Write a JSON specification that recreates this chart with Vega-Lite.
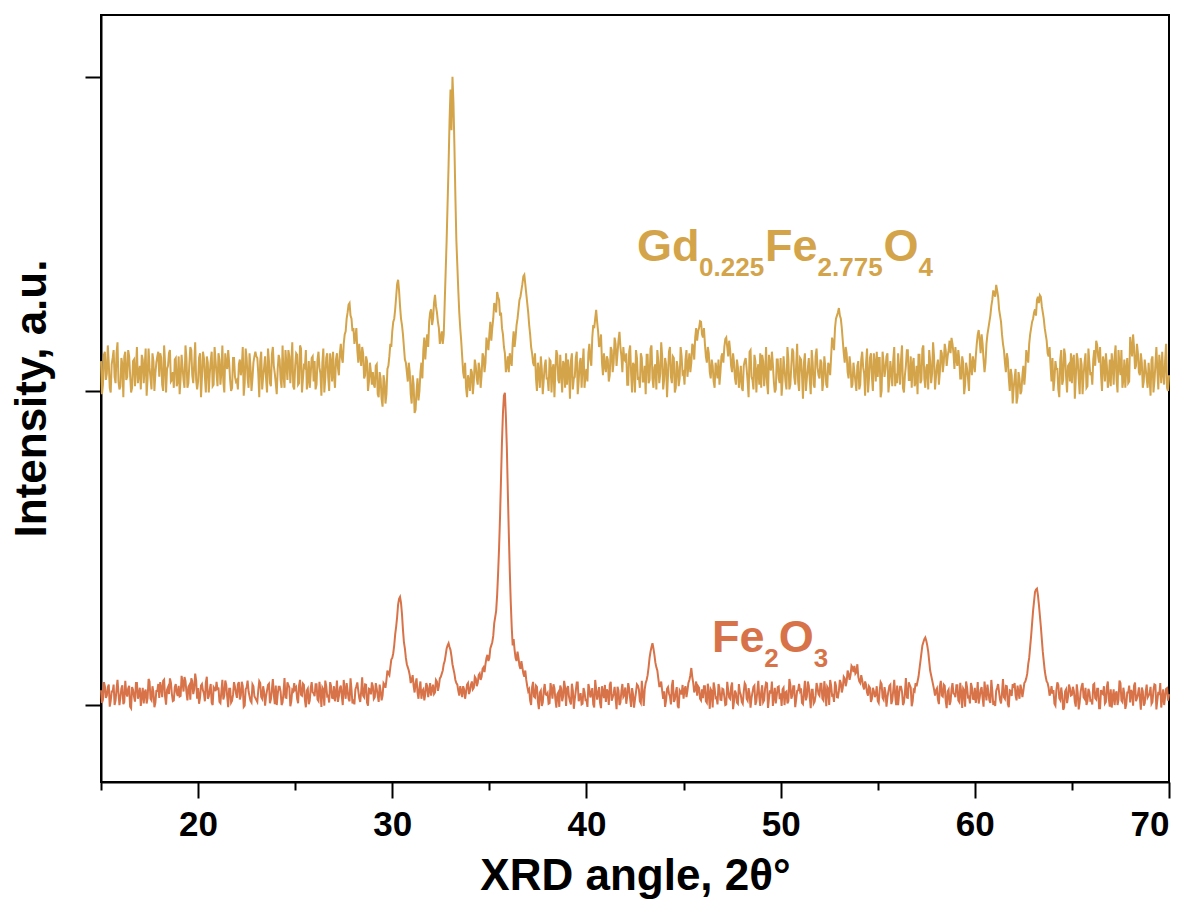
{
"$schema":"https://vega.github.io/schema/vega-lite/v6.json",
"width":1068,"height":767,
"autosize":{"type":"none"},
"padding":{"left":101,"top":15,"right":23,"bottom":120},
"background":"white",
"config":{"view":{"stroke":"black","strokeWidth":2},"axis":{"grid":false,"domainColor":"black","domainWidth":2,"tickColor":"black","tickWidth":2,"labelFont":"Liberation Sans","labelFontWeight":"bold","labelColor":"black","titleFont":"Liberation Sans","titleFontWeight":"bold","titleColor":"black"}},
"datasets":{"xrd":[
{"x":15.0,"f":47,"g":1095},{"x":15.1,"f":17,"g":1020},{"x":15.2,"f":60,"g":1125},{"x":15.3,"f":30,"g":1055},{"x":15.4,"f":65,"g":1090},{"x":15.5,"f":13,"g":995},{"x":15.6,"f":43,"g":1105},{"x":15.7,"f":0,"g":1045},{"x":15.8,"f":50,"g":1120},{"x":15.9,"f":37,"g":1030},
{"x":16.0,"f":25,"g":1015},{"x":16.1,"f":63,"g":1085},{"x":16.2,"f":10,"g":1110},{"x":16.3,"f":40,"g":1035},{"x":16.4,"f":53,"g":1130},{"x":16.5,"f":-5,"g":1050},{"x":16.6,"f":57,"g":1010},{"x":16.7,"f":27,"g":1100},{"x":16.8,"f":70,"g":1070},{"x":16.9,"f":20,"g":1025},
{"x":17.0,"f":55,"g":1080},{"x":17.1,"f":30,"g":1115},{"x":17.2,"f":5,"g":1025},{"x":17.3,"f":49,"g":1135},{"x":17.4,"f":23,"g":1040},{"x":17.5,"f":75,"g":1075},{"x":17.6,"f":15,"g":1005},{"x":17.7,"f":41,"g":1095},{"x":17.8,"f":7,"g":1055},{"x":17.9,"f":45,"g":1110},
{"x":18.0,"f":23,"g":1045},{"x":18.1,"f":55,"g":1105},{"x":18.2,"f":77,"g":1000},{"x":18.3,"f":27,"g":1090},{"x":18.4,"f":49,"g":1070},{"x":18.5,"f":35,"g":1120},{"x":18.6,"f":71,"g":1030},{"x":18.7,"f":13,"g":1060},{"x":18.8,"f":57,"g":1100},{"x":18.9,"f":39,"g":1015},
{"x":19.0,"f":61,"g":1110},{"x":19.1,"f":29,"g":1040},{"x":19.2,"f":73,"g":1075},{"x":19.3,"f":89,"g":1010},{"x":19.4,"f":41,"g":1105},{"x":19.5,"f":57,"g":1025},{"x":19.6,"f":17,"g":1140},{"x":19.7,"f":75,"g":1050},{"x":19.8,"f":51,"g":1085},{"x":19.9,"f":79,"g":1035},
{"x":20.0,"f":54,"g":1030},{"x":20.1,"f":24,"g":1120},{"x":20.2,"f":67,"g":1045},{"x":20.3,"f":37,"g":1105},{"x":20.4,"f":72,"g":995},{"x":20.5,"f":20,"g":1090},{"x":20.6,"f":50,"g":1055},{"x":20.7,"f":7,"g":1125},{"x":20.8,"f":57,"g":1020},{"x":20.9,"f":44,"g":1095},
{"x":21.0,"f":48,"g":1015},{"x":21.1,"f":10,"g":1100},{"x":21.2,"f":44,"g":1060},{"x":21.3,"f":18,"g":1030},{"x":21.4,"f":78,"g":1120},{"x":21.5,"f":26,"g":1070},{"x":21.6,"f":52,"g":1090},{"x":21.7,"f":8,"g":1000},{"x":21.8,"f":33,"g":1105},{"x":21.9,"f":58,"g":1045},
{"x":22.0,"f":23,"g":1035},{"x":22.1,"f":73,"g":1085},{"x":22.2,"f":30,"g":1050},{"x":22.3,"f":60,"g":1140},{"x":22.4,"f":-2,"g":1025},{"x":22.5,"f":56,"g":1105},{"x":22.6,"f":43,"g":1010},{"x":22.7,"f":13,"g":1075},{"x":22.8,"f":66,"g":1040},{"x":22.9,"f":28,"g":1110},
{"x":23.0,"f":16,"g":1110},{"x":23.1,"f":48,"g":1055},{"x":23.2,"f":70,"g":1095},{"x":23.3,"f":20,"g":1005},{"x":23.4,"f":42,"g":1075},{"x":23.5,"f":28,"g":1040},{"x":23.6,"f":64,"g":1135},{"x":23.7,"f":6,"g":1025},{"x":23.8,"f":50,"g":1115},{"x":23.9,"f":32,"g":1080},
{"x":24.0,"f":62,"g":1025},{"x":24.1,"f":34,"g":1070},{"x":24.2,"f":58,"g":1100},{"x":24.3,"f":0,"g":1010},{"x":24.4,"f":40,"g":1050},{"x":24.5,"f":24,"g":1130},{"x":24.6,"f":72,"g":1035},{"x":24.7,"f":56,"g":1110},{"x":24.8,"f":12,"g":1085},{"x":24.9,"f":44,"g":1015},
{"x":25.0,"f":50,"g":1080},{"x":25.1,"f":20,"g":1115},{"x":25.2,"f":63,"g":1025},{"x":25.3,"f":33,"g":1135},{"x":25.4,"f":68,"g":1040},{"x":25.5,"f":16,"g":1075},{"x":25.6,"f":46,"g":1005},{"x":25.7,"f":3,"g":1095},{"x":25.8,"f":53,"g":1055},{"x":25.9,"f":40,"g":1110},
{"x":26.0,"f":28,"g":1095},{"x":26.1,"f":66,"g":1020},{"x":26.2,"f":13,"g":1125},{"x":26.3,"f":43,"g":1055},{"x":26.4,"f":56,"g":1090},{"x":26.5,"f":-2,"g":995},{"x":26.6,"f":60,"g":1105},{"x":26.7,"f":30,"g":1045},{"x":26.8,"f":73,"g":1120},{"x":26.9,"f":23,"g":1030},
{"x":27.0,"f":60,"g":1050},{"x":27.1,"f":35,"g":1100},{"x":27.2,"f":10,"g":1075},{"x":27.3,"f":54,"g":1120},{"x":27.4,"f":28,"g":1105},{"x":27.5,"f":80,"g":1150},{"x":27.6,"f":20,"g":1190},{"x":27.7,"f":46,"g":1250},{"x":27.8,"f":12,"g":1280},{"x":27.9,"f":50,"g":1230},
{"x":28.0,"f":18,"g":1200},{"x":28.1,"f":50,"g":1170},{"x":28.2,"f":72,"g":1130},{"x":28.3,"f":22,"g":1150},{"x":28.4,"f":44,"g":1080},{"x":28.5,"f":30,"g":1120},{"x":28.6,"f":66,"g":1050},{"x":28.7,"f":8,"g":1095},{"x":28.8,"f":52,"g":1030},{"x":28.9,"f":34,"g":1060},
{"x":29.0,"f":60,"g":1060},{"x":29.1,"f":25,"g":1010},{"x":29.2,"f":52,"g":1085},{"x":29.3,"f":10,"g":980},{"x":29.4,"f":45,"g":1040},{"x":29.5,"f":30,"g":950},{"x":29.6,"f":65,"g":1030},{"x":29.7,"f":80,"g":990},{"x":29.8,"f":100,"g":1080},{"x":29.9,"f":120,"g":1150},
{"x":30.0,"f":150,"g":1190},{"x":30.1,"f":190,"g":1230},{"x":30.2,"f":250,"g":1300},{"x":30.3,"f":320,"g":1354},{"x":30.4,"f":344,"g":1270},{"x":30.5,"f":290,"g":1210},{"x":30.6,"f":200,"g":1140},{"x":30.7,"f":150,"g":1090},{"x":30.8,"f":120,"g":1030},{"x":30.9,"f":95,"g":1060},
{"x":31.0,"f":80,"g":960},{"x":31.1,"f":60,"g":1020},{"x":31.2,"f":70,"g":940},{"x":31.3,"f":40,"g":1040},{"x":31.4,"f":55,"g":1000},{"x":31.5,"f":20,"g":1090},{"x":31.6,"f":50,"g":1130},{"x":31.7,"f":35,"g":1100},{"x":31.8,"f":60,"g":1180},{"x":31.9,"f":45,"g":1220},
{"x":32.0,"f":30,"g":1260},{"x":32.1,"f":65,"g":1230},{"x":32.2,"f":40,"g":1306},{"x":32.3,"f":75,"g":1250},{"x":32.4,"f":60,"g":1200},{"x":32.5,"f":90,"g":1170},{"x":32.6,"f":110,"g":1150},{"x":32.7,"f":140,"g":1280},{"x":32.8,"f":180,"g":1480},{"x":32.9,"f":197,"g":1720},
{"x":33.0,"f":175,"g":1960},{"x":33.1,"f":130,"g":2000},{"x":33.2,"f":100,"g":1780},{"x":33.3,"f":70,"g":1480},{"x":33.4,"f":45,"g":1320},{"x":33.5,"f":60,"g":1200},{"x":33.6,"f":25,"g":1110},{"x":33.7,"f":50,"g":1040},{"x":33.8,"f":40,"g":1010},{"x":33.9,"f":70,"g":1050},
{"x":34.0,"f":45,"g":1000},{"x":34.1,"f":75,"g":1060},{"x":34.2,"f":55,"g":1030},{"x":34.3,"f":85,"g":1080},{"x":34.4,"f":70,"g":1020},{"x":34.5,"f":100,"g":1070},{"x":34.6,"f":90,"g":1050},{"x":34.7,"f":120,"g":1110},{"x":34.8,"f":130,"g":1090},{"x":34.9,"f":160,"g":1150},
{"x":35.0,"f":150,"g":1180},{"x":35.1,"f":190,"g":1160},{"x":35.2,"f":220,"g":1230},{"x":35.3,"f":280,"g":1270},{"x":35.4,"f":350,"g":1315},{"x":35.5,"f":500,"g":1290},{"x":35.6,"f":720,"g":1250},{"x":35.7,"f":930,"g":1180},{"x":35.8,"f":994,"g":1120},{"x":35.9,"f":820,"g":1080},
{"x":36.0,"f":550,"g":1060},{"x":36.1,"f":330,"g":1100},{"x":36.2,"f":190,"g":1150},{"x":36.3,"f":175,"g":1140},{"x":36.4,"f":140,"g":1210},{"x":36.5,"f":150,"g":1260},{"x":36.6,"f":115,"g":1300},{"x":36.7,"f":120,"g":1340},{"x":36.8,"f":90,"g":1370},{"x":36.9,"f":80,"g":1310},
{"x":37.0,"f":44,"g":1250},{"x":37.1,"f":14,"g":1180},{"x":37.2,"f":57,"g":1120},{"x":37.3,"f":27,"g":1080},{"x":37.4,"f":62,"g":1040},{"x":37.5,"f":10,"g":1090},{"x":37.6,"f":40,"g":1010},{"x":37.7,"f":-3,"g":1070},{"x":37.8,"f":47,"g":1035},{"x":37.9,"f":34,"g":1100},
{"x":38.0,"f":38,"g":1040},{"x":38.1,"f":6,"g":1100},{"x":38.2,"f":50,"g":995},{"x":38.3,"f":66,"g":1085},{"x":38.4,"f":18,"g":1065},{"x":38.5,"f":34,"g":1115},{"x":38.6,"f":-6,"g":1025},{"x":38.7,"f":52,"g":1055},{"x":38.8,"f":28,"g":1095},{"x":38.9,"f":56,"g":1010},
{"x":39.0,"f":52,"g":1020},{"x":39.1,"f":27,"g":1065},{"x":39.2,"f":2,"g":1095},{"x":39.3,"f":46,"g":1005},{"x":39.4,"f":20,"g":1045},{"x":39.5,"f":72,"g":1125},{"x":39.6,"f":12,"g":1030},{"x":39.7,"f":38,"g":1105},{"x":39.8,"f":4,"g":1080},{"x":39.9,"f":42,"g":1010},
{"x":40.0,"f":17,"g":1070},{"x":40.1,"f":67,"g":1120},{"x":40.2,"f":24,"g":1100},{"x":40.3,"f":54,"g":1170},{"x":40.4,"f":-8,"g":1200},{"x":40.5,"f":50,"g":1258},{"x":40.6,"f":37,"g":1190},{"x":40.7,"f":7,"g":1150},{"x":40.8,"f":60,"g":1090},{"x":40.9,"f":22,"g":1120},
{"x":41.0,"f":10,"g":1060},{"x":41.1,"f":42,"g":1100},{"x":41.2,"f":64,"g":1050},{"x":41.3,"f":14,"g":1130},{"x":41.4,"f":36,"g":1090},{"x":41.5,"f":22,"g":1150},{"x":41.6,"f":58,"g":1120},{"x":41.7,"f":0,"g":1188},{"x":41.8,"f":44,"g":1110},{"x":41.9,"f":26,"g":1140},
{"x":42.0,"f":56,"g":1095},{"x":42.1,"f":28,"g":1020},{"x":42.2,"f":52,"g":1125},{"x":42.3,"f":-6,"g":1055},{"x":42.4,"f":34,"g":1090},{"x":42.5,"f":18,"g":995},{"x":42.6,"f":66,"g":1105},{"x":42.7,"f":50,"g":1045},{"x":42.8,"f":6,"g":1120},{"x":42.9,"f":38,"g":1030},
{"x":43.0,"f":50,"g":1080},{"x":43.1,"f":80,"g":1115},{"x":43.2,"f":120,"g":1025},{"x":43.3,"f":170,"g":1135},{"x":43.4,"f":197,"g":1040},{"x":43.5,"f":160,"g":1075},{"x":43.6,"f":120,"g":1005},{"x":43.7,"f":85,"g":1095},{"x":43.8,"f":60,"g":1055},{"x":43.9,"f":45,"g":1110},
{"x":44.0,"f":44,"g":1035},{"x":44.1,"f":14,"g":1085},{"x":44.2,"f":57,"g":1050},{"x":44.3,"f":27,"g":1140},{"x":44.4,"f":62,"g":1025},{"x":44.5,"f":10,"g":1105},{"x":44.6,"f":40,"g":1010},{"x":44.7,"f":-3,"g":1075},{"x":44.8,"f":47,"g":1040},{"x":44.9,"f":34,"g":1110},
{"x":45.0,"f":20,"g":1060},{"x":45.1,"f":60,"g":1100},{"x":45.2,"f":45,"g":1045},{"x":45.3,"f":80,"g":1120},{"x":45.4,"f":118,"g":1090},{"x":45.5,"f":70,"g":1140},{"x":45.6,"f":50,"g":1170},{"x":45.7,"f":30,"g":1160},{"x":45.8,"f":55,"g":1200},{"x":45.9,"f":15,"g":1220},
{"x":46.0,"f":22,"g":1170},{"x":46.1,"f":60,"g":1150},{"x":46.2,"f":7,"g":1090},{"x":46.3,"f":37,"g":1120},{"x":46.4,"f":50,"g":1040},{"x":46.5,"f":-8,"g":1080},{"x":46.6,"f":54,"g":1010},{"x":46.7,"f":24,"g":1070},{"x":46.8,"f":67,"g":1100},{"x":46.9,"f":17,"g":1060},
{"x":47.0,"f":52,"g":1120},{"x":47.1,"f":27,"g":1140},{"x":47.2,"f":2,"g":1170},{"x":47.3,"f":46,"g":1110},{"x":47.4,"f":20,"g":1130},{"x":47.5,"f":72,"g":1060},{"x":47.6,"f":12,"g":1090},{"x":47.7,"f":38,"g":1020},{"x":47.8,"f":4,"g":1075},{"x":47.9,"f":42,"g":1040},
{"x":48.0,"f":10,"g":1010},{"x":48.1,"f":42,"g":1080},{"x":48.2,"f":64,"g":1105},{"x":48.3,"f":14,"g":1030},{"x":48.4,"f":36,"g":1125},{"x":48.5,"f":22,"g":1045},{"x":48.6,"f":58,"g":1005},{"x":48.7,"f":0,"g":1095},{"x":48.8,"f":44,"g":1065},{"x":48.9,"f":26,"g":1020},
{"x":49.0,"f":41,"g":1010},{"x":49.1,"f":9,"g":1095},{"x":49.2,"f":53,"g":1055},{"x":49.3,"f":69,"g":1025},{"x":49.4,"f":21,"g":1115},{"x":49.5,"f":37,"g":1065},{"x":49.6,"f":-3,"g":1085},{"x":49.7,"f":55,"g":995},{"x":49.8,"f":31,"g":1100},{"x":49.9,"f":59,"g":1040},
{"x":50.0,"f":37,"g":1105},{"x":50.1,"f":50,"g":1035},{"x":50.2,"f":0,"g":1070},{"x":50.3,"f":43,"g":1005},{"x":50.4,"f":13,"g":1100},{"x":50.5,"f":65,"g":1020},{"x":50.6,"f":30,"g":1135},{"x":50.7,"f":60,"g":1045},{"x":50.8,"f":17,"g":1080},{"x":50.9,"f":47,"g":1030},
{"x":51.0,"f":45,"g":1105},{"x":51.1,"f":7,"g":1050},{"x":51.2,"f":41,"g":1090},{"x":51.3,"f":15,"g":1000},{"x":51.4,"f":75,"g":1070},{"x":51.5,"f":23,"g":1035},{"x":51.6,"f":49,"g":1130},{"x":51.7,"f":5,"g":1020},{"x":51.8,"f":30,"g":1110},{"x":51.9,"f":55,"g":1075},
{"x":52.0,"f":30,"g":1040},{"x":52.1,"f":68,"g":1090},{"x":52.2,"f":15,"g":1030},{"x":52.3,"f":45,"g":1075},{"x":52.4,"f":58,"g":1010},{"x":52.5,"f":0,"g":1080},{"x":52.6,"f":62,"g":1110},{"x":52.7,"f":32,"g":1150},{"x":52.8,"f":75,"g":1200},{"x":52.9,"f":25,"g":1240},
{"x":53.0,"f":45,"g":1264},{"x":53.1,"f":70,"g":1230},{"x":53.2,"f":55,"g":1160},{"x":53.3,"f":85,"g":1090},{"x":53.4,"f":75,"g":1120},{"x":53.5,"f":100,"g":1040},{"x":53.6,"f":95,"g":1080},{"x":53.7,"f":120,"g":1020},{"x":53.8,"f":125,"g":1060},{"x":53.9,"f":105,"g":1000},
{"x":54.0,"f":90,"g":1095},{"x":54.1,"f":70,"g":1020},{"x":54.2,"f":80,"g":1125},{"x":54.3,"f":50,"g":1055},{"x":54.4,"f":65,"g":1090},{"x":54.5,"f":30,"g":995},{"x":54.6,"f":55,"g":1105},{"x":54.7,"f":20,"g":1045},{"x":54.8,"f":45,"g":1120},{"x":54.9,"f":35,"g":1030},
{"x":55.0,"f":13,"g":1045},{"x":55.1,"f":45,"g":1105},{"x":55.2,"f":67,"g":1000},{"x":55.3,"f":17,"g":1090},{"x":55.4,"f":39,"g":1070},{"x":55.5,"f":25,"g":1120},{"x":55.6,"f":61,"g":1030},{"x":55.7,"f":3,"g":1060},{"x":55.8,"f":47,"g":1100},{"x":55.9,"f":29,"g":1015},
{"x":56.0,"f":62,"g":1025},{"x":56.1,"f":34,"g":1070},{"x":56.2,"f":58,"g":1100},{"x":56.3,"f":0,"g":1010},{"x":56.4,"f":40,"g":1050},{"x":56.5,"f":24,"g":1130},{"x":56.6,"f":72,"g":1035},{"x":56.7,"f":56,"g":1110},{"x":56.8,"f":12,"g":1085},{"x":56.9,"f":44,"g":1015},
{"x":57.0,"f":60,"g":1080},{"x":57.1,"f":90,"g":1115},{"x":57.2,"f":140,"g":1025},{"x":57.3,"f":190,"g":1135},{"x":57.4,"f":210,"g":1040},{"x":57.5,"f":205,"g":1075},{"x":57.6,"f":170,"g":1005},{"x":57.7,"f":110,"g":1095},{"x":57.8,"f":80,"g":1055},{"x":57.9,"f":50,"g":1110},
{"x":58.0,"f":47,"g":1045},{"x":58.1,"f":17,"g":1100},{"x":58.2,"f":60,"g":1060},{"x":58.3,"f":30,"g":1120},{"x":58.4,"f":65,"g":1090},{"x":58.5,"f":13,"g":1130},{"x":58.6,"f":43,"g":1110},{"x":58.7,"f":0,"g":1160},{"x":58.8,"f":50,"g":1169},{"x":58.9,"f":37,"g":1120},
{"x":59.0,"f":25,"g":1140},{"x":59.1,"f":63,"g":1080},{"x":59.2,"f":10,"g":1100},{"x":59.3,"f":40,"g":1040},{"x":59.4,"f":53,"g":1090},{"x":59.5,"f":-5,"g":1020},{"x":59.6,"f":57,"g":1070},{"x":59.7,"f":27,"g":1000},{"x":59.8,"f":70,"g":1080},{"x":59.9,"f":20,"g":1110},
{"x":60.0,"f":55,"g":1060},{"x":60.1,"f":30,"g":1150},{"x":60.2,"f":5,"g":1194},{"x":60.3,"f":49,"g":1120},{"x":60.4,"f":23,"g":1150},{"x":60.5,"f":75,"g":1060},{"x":60.6,"f":15,"g":1150},{"x":60.7,"f":41,"g":1200},{"x":60.8,"f":7,"g":1240},{"x":60.9,"f":45,"g":1290},
{"x":61.0,"f":13,"g":1310},{"x":61.1,"f":45,"g":1338},{"x":61.2,"f":67,"g":1300},{"x":61.3,"f":17,"g":1240},{"x":61.4,"f":39,"g":1180},{"x":61.5,"f":25,"g":1130},{"x":61.6,"f":61,"g":1060},{"x":61.7,"f":3,"g":1100},{"x":61.8,"f":47,"g":1000},{"x":61.9,"f":29,"g":1050},
{"x":62.0,"f":55,"g":1010},{"x":62.1,"f":30,"g":1070},{"x":62.2,"f":62,"g":980},{"x":62.3,"f":20,"g":1040},{"x":62.4,"f":50,"g":1000},{"x":62.5,"f":45,"g":1080},{"x":62.6,"f":75,"g":1060},{"x":62.7,"f":100,"g":1110},{"x":62.8,"f":150,"g":1150},{"x":62.9,"f":220,"g":1200},
{"x":63.0,"f":300,"g":1230},{"x":63.1,"f":360,"g":1260},{"x":63.2,"f":371,"g":1290},{"x":63.3,"f":320,"g":1280},{"x":63.4,"f":250,"g":1300},{"x":63.5,"f":170,"g":1250},{"x":63.6,"f":110,"g":1200},{"x":63.7,"f":75,"g":1160},{"x":63.8,"f":55,"g":1110},{"x":63.9,"f":40,"g":1080},
{"x":64.0,"f":36,"g":1105},{"x":64.1,"f":4,"g":1035},{"x":64.2,"f":48,"g":1070},{"x":64.3,"f":64,"g":1005},{"x":64.4,"f":16,"g":1100},{"x":64.5,"f":32,"g":1020},{"x":64.6,"f":-8,"g":1135},{"x":64.7,"f":50,"g":1045},{"x":64.8,"f":26,"g":1080},{"x":64.9,"f":54,"g":1030},
{"x":65.0,"f":32,"g":1025},{"x":65.1,"f":45,"g":1115},{"x":65.2,"f":-5,"g":1040},{"x":65.3,"f":38,"g":1100},{"x":65.4,"f":8,"g":990},{"x":65.5,"f":60,"g":1085},{"x":65.6,"f":25,"g":1050},{"x":65.7,"f":55,"g":1120},{"x":65.8,"f":12,"g":1015},{"x":65.9,"f":42,"g":1090},
{"x":66.0,"f":15,"g":1060},{"x":66.1,"f":65,"g":1100},{"x":66.2,"f":22,"g":1080},{"x":66.3,"f":52,"g":1147},{"x":66.4,"f":-10,"g":1090},{"x":66.5,"f":48,"g":1050},{"x":66.6,"f":35,"g":1110},{"x":66.7,"f":5,"g":1030},{"x":66.8,"f":58,"g":1080},{"x":66.9,"f":20,"g":1040},
{"x":67.0,"f":50,"g":1015},{"x":67.1,"f":25,"g":1085},{"x":67.2,"f":0,"g":1110},{"x":67.3,"f":44,"g":1035},{"x":67.4,"f":18,"g":1130},{"x":67.5,"f":70,"g":1050},{"x":67.6,"f":10,"g":1010},{"x":67.7,"f":36,"g":1100},{"x":67.8,"f":2,"g":1070},{"x":67.9,"f":40,"g":1025},
{"x":68.0,"f":8,"g":1172},{"x":68.1,"f":40,"g":1110},{"x":68.2,"f":62,"g":1140},{"x":68.3,"f":12,"g":1080},{"x":68.4,"f":34,"g":1120},{"x":68.5,"f":20,"g":1050},{"x":68.6,"f":56,"g":1090},{"x":68.7,"f":-2,"g":1030},{"x":68.8,"f":42,"g":1070},{"x":68.9,"f":24,"g":1010},
{"x":69.0,"f":36,"g":1040},{"x":69.1,"f":4,"g":1100},{"x":69.2,"f":48,"g":995},{"x":69.3,"f":64,"g":1085},{"x":69.4,"f":16,"g":1065},{"x":69.5,"f":32,"g":1115},{"x":69.6,"f":-8,"g":1025},{"x":69.7,"f":50,"g":1055},{"x":69.8,"f":26,"g":1095},{"x":69.9,"f":54,"g":1010},
{"x":70.0,"f":35,"g":1050},
{"x":15.05,"f":7,"g":990},{"x":15.15,"f":73,"g":1115},{"x":15.25,"f":23,"g":1035},{"x":15.35,"f":57,"g":1145},{"x":15.45,"f":-5,"g":1010},{"x":15.55,"f":43,"g":1085},{"x":15.65,"f":65,"g":1130},{"x":15.75,"f":15,"g":1025},{"x":15.85,"f":80,"g":1155},{"x":15.95,"f":0,"g":1005},
{"x":16.05,"f":53,"g":1105},{"x":16.15,"f":3,"g":980},{"x":16.25,"f":77,"g":1125},{"x":16.35,"f":27,"g":1045},{"x":16.45,"f":61,"g":1110},{"x":16.55,"f":-10,"g":995},{"x":16.65,"f":49,"g":1095},{"x":16.75,"f":11,"g":1015},{"x":16.85,"f":70,"g":1140},{"x":16.95,"f":35,"g":1055},
{"x":17.05,"f":-3,"g":1005},{"x":17.15,"f":55,"g":1100},{"x":17.25,"f":40,"g":1075},{"x":17.35,"f":5,"g":985},{"x":17.45,"f":83,"g":1135},{"x":17.55,"f":20,"g":1040},{"x":17.65,"f":60,"g":1120},{"x":17.75,"f":-7,"g":1000},{"x":17.85,"f":45,"g":1090},{"x":17.95,"f":67,"g":1125},
{"x":18.05,"f":73,"g":1120},{"x":18.15,"f":25,"g":1020},{"x":18.25,"f":81,"g":1145},{"x":18.35,"f":1,"g":995},{"x":18.45,"f":57,"g":1080},{"x":18.55,"f":85,"g":1130},{"x":18.65,"f":35,"g":1035},{"x":18.75,"f":15,"g":1010},{"x":18.85,"f":67,"g":1105},{"x":18.95,"f":29,"g":1030},
{"x":19.05,"f":27,"g":990},{"x":19.15,"f":93,"g":1115},{"x":19.25,"f":43,"g":1035},{"x":19.35,"f":77,"g":1145},{"x":19.45,"f":15,"g":1010},{"x":19.55,"f":63,"g":1085},{"x":19.65,"f":85,"g":1130},{"x":19.75,"f":35,"g":1025},{"x":19.85,"f":100,"g":1155},{"x":19.95,"f":20,"g":1005},
{"x":20.05,"f":4,"g":1105},{"x":20.15,"f":62,"g":980},{"x":20.25,"f":47,"g":1125},{"x":20.35,"f":12,"g":1045},{"x":20.45,"f":90,"g":1110},{"x":20.55,"f":27,"g":995},{"x":20.65,"f":67,"g":1095},{"x":20.75,"f":0,"g":1015},{"x":20.85,"f":52,"g":1140},{"x":20.95,"f":74,"g":1055},
{"x":21.05,"f":56,"g":1120},{"x":21.15,"f":6,"g":1020},{"x":21.25,"f":80,"g":1145},{"x":21.35,"f":30,"g":995},{"x":21.45,"f":64,"g":1080},{"x":21.55,"f":-7,"g":1130},{"x":21.65,"f":52,"g":1035},{"x":21.75,"f":14,"g":1010},{"x":21.85,"f":73,"g":1105},{"x":21.95,"f":38,"g":1030},
{"x":22.05,"f":66,"g":1005},{"x":22.15,"f":18,"g":1100},{"x":22.25,"f":74,"g":1075},{"x":22.35,"f":-6,"g":985},{"x":22.45,"f":50,"g":1135},{"x":22.55,"f":78,"g":1040},{"x":22.65,"f":28,"g":1120},{"x":22.75,"f":8,"g":1000},{"x":22.85,"f":60,"g":1090},{"x":22.95,"f":22,"g":1125},
{"x":23.05,"f":10,"g":1105},{"x":23.15,"f":76,"g":980},{"x":23.25,"f":26,"g":1125},{"x":23.35,"f":60,"g":1045},{"x":23.45,"f":-2,"g":1110},{"x":23.55,"f":46,"g":995},{"x":23.65,"f":68,"g":1095},{"x":23.75,"f":18,"g":1015},{"x":23.85,"f":83,"g":1140},{"x":23.95,"f":3,"g":1055},
{"x":24.05,"f":0,"g":990},{"x":24.15,"f":58,"g":1115},{"x":24.25,"f":43,"g":1035},{"x":24.35,"f":8,"g":1145},{"x":24.45,"f":86,"g":1010},{"x":24.55,"f":23,"g":1085},{"x":24.65,"f":63,"g":1130},{"x":24.75,"f":-4,"g":1025},{"x":24.85,"f":48,"g":1155},{"x":24.95,"f":70,"g":1005},
{"x":25.05,"f":56,"g":1120},{"x":25.15,"f":6,"g":1020},{"x":25.25,"f":80,"g":1145},{"x":25.35,"f":30,"g":995},{"x":25.45,"f":64,"g":1080},{"x":25.55,"f":-7,"g":1130},{"x":25.65,"f":52,"g":1035},{"x":25.75,"f":14,"g":1010},{"x":25.85,"f":73,"g":1105},{"x":25.95,"f":38,"g":1030},
{"x":26.05,"f":66,"g":1005},{"x":26.15,"f":18,"g":1100},{"x":26.25,"f":74,"g":1075},{"x":26.35,"f":-6,"g":985},{"x":26.45,"f":50,"g":1135},{"x":26.55,"f":78,"g":1040},{"x":26.65,"f":28,"g":1120},{"x":26.75,"f":8,"g":1000},{"x":26.85,"f":60,"g":1090},{"x":26.95,"f":22,"g":1125},
{"x":27.05,"f":12,"g":1010},{"x":27.15,"f":78,"g":1120},{"x":27.25,"f":28,"g":1050},{"x":27.35,"f":62,"g":1150},{"x":27.45,"f":0,"g":1090},{"x":27.55,"f":48,"g":1180},{"x":27.65,"f":70,"g":1230},{"x":27.75,"f":20,"g":1275},{"x":27.85,"f":85,"g":1240},{"x":27.95,"f":5,"g":1190},
{"x":28.05,"f":2,"g":1150},{"x":28.15,"f":60,"g":1200},{"x":28.25,"f":45,"g":1090},{"x":28.35,"f":10,"g":1110},{"x":28.45,"f":88,"g":1140},{"x":28.55,"f":25,"g":1040},{"x":28.65,"f":65,"g":1110},{"x":28.75,"f":-2,"g":1000},{"x":28.85,"f":50,"g":1090},{"x":28.95,"f":72,"g":1020},
{"x":29.05,"f":20,"g":1020},{"x":29.15,"f":70,"g":1080},{"x":29.25,"f":30,"g":990},{"x":29.35,"f":65,"g":1060},{"x":29.45,"f":15,"g":975},{"x":29.55,"f":70,"g":1050},{"x":29.65,"f":55,"g":960},{"x":29.75,"f":110,"g":1070},{"x":29.85,"f":95,"g":1110},{"x":29.95,"f":145,"g":1140},
{"x":30.05,"f":165,"g":1220},{"x":30.15,"f":225,"g":1260},{"x":30.25,"f":280,"g":1340},{"x":30.35,"f":338,"g":1320},{"x":30.45,"f":325,"g":1230},{"x":30.55,"f":240,"g":1180},{"x":30.65,"f":180,"g":1100},{"x":30.75,"f":130,"g":1060},{"x":30.85,"f":110,"g":1090},{"x":30.95,"f":70,"g":990},
{"x":31.05,"f":95,"g":1050},{"x":31.15,"f":40,"g":930},{"x":31.25,"f":85,"g":1000},{"x":31.35,"f":20,"g":970},{"x":31.45,"f":75,"g":1060},{"x":31.55,"f":45,"g":1040},{"x":31.65,"f":15,"g":1170},{"x":31.75,"f":70,"g":1150},{"x":31.85,"f":25,"g":1140},{"x":31.95,"f":70,"g":1250},
{"x":32.05,"f":50,"g":1210},{"x":32.15,"f":35,"g":1280},{"x":32.25,"f":80,"g":1270},{"x":32.35,"f":45,"g":1220},{"x":32.45,"f":85,"g":1150},{"x":32.55,"f":100,"g":1190},{"x":32.65,"f":130,"g":1180},{"x":32.75,"f":160,"g":1380},{"x":32.85,"f":190,"g":1600},{"x":32.95,"f":185,"g":1860},
{"x":33.05,"f":155,"g":1830},{"x":33.15,"f":115,"g":1920},{"x":33.25,"f":80,"g":1620},{"x":33.35,"f":65,"g":1400},{"x":33.45,"f":30,"g":1250},{"x":33.55,"f":45,"g":1160},{"x":33.65,"f":60,"g":1060},{"x":33.75,"f":20,"g":1090},{"x":33.85,"f":65,"g":980},{"x":33.95,"f":35,"g":1030},
{"x":34.05,"f":65,"g":1070},{"x":34.15,"f":50,"g":990},{"x":34.25,"f":90,"g":1100},{"x":34.35,"f":60,"g":1040},{"x":34.45,"f":95,"g":1090},{"x":34.55,"f":80,"g":1010},{"x":34.65,"f":115,"g":1120},{"x":34.75,"f":105,"g":1060},{"x":34.85,"f":150,"g":1170},{"x":34.95,"f":140,"g":1130},
{"x":35.05,"f":180,"g":1220},{"x":35.15,"f":200,"g":1200},{"x":35.25,"f":260,"g":1280},{"x":35.35,"f":300,"g":1250},{"x":35.45,"f":420,"g":1300},{"x":35.55,"f":600,"g":1240},{"x":35.65,"f":840,"g":1200},{"x":35.75,"f":985,"g":1140},{"x":35.85,"f":920,"g":1060},{"x":35.95,"f":680,"g":1110},
{"x":36.05,"f":430,"g":1120},{"x":36.15,"f":250,"g":1080},{"x":36.25,"f":210,"g":1190},{"x":36.35,"f":150,"g":1170},{"x":36.45,"f":170,"g":1230},{"x":36.55,"f":125,"g":1290},{"x":36.65,"f":140,"g":1320},{"x":36.75,"f":100,"g":1365},{"x":36.85,"f":110,"g":1340},{"x":36.95,"f":60,"g":1280},
{"x":37.05,"f":50,"g":1210},{"x":37.15,"f":0,"g":1140},{"x":37.25,"f":74,"g":1090},{"x":37.35,"f":24,"g":1120},{"x":37.45,"f":58,"g":1000},{"x":37.55,"f":-13,"g":1060},{"x":37.65,"f":46,"g":1110},{"x":37.75,"f":8,"g":990},{"x":37.85,"f":67,"g":1080},{"x":37.95,"f":32,"g":1040},
{"x":38.05,"f":4,"g":1000},{"x":38.15,"f":70,"g":1095},{"x":38.25,"f":20,"g":1070},{"x":38.35,"f":54,"g":980},{"x":38.45,"f":-8,"g":1130},{"x":38.55,"f":40,"g":1035},{"x":38.65,"f":62,"g":1115},{"x":38.75,"f":12,"g":995},{"x":38.85,"f":77,"g":1085},{"x":38.95,"f":-3,"g":1120},
{"x":39.05,"f":60,"g":1100},{"x":39.15,"f":12,"g":975},{"x":39.25,"f":68,"g":1120},{"x":39.35,"f":-12,"g":1040},{"x":39.45,"f":44,"g":1105},{"x":39.55,"f":72,"g":990},{"x":39.65,"f":22,"g":1090},{"x":39.75,"f":2,"g":1010},{"x":39.85,"f":54,"g":1135},{"x":39.95,"f":16,"g":1050},
{"x":40.05,"f":-6,"g":1030},{"x":40.15,"f":52,"g":1150},{"x":40.25,"f":37,"g":1080},{"x":40.35,"f":2,"g":1210},{"x":40.45,"f":80,"g":1230},{"x":40.55,"f":17,"g":1220},{"x":40.65,"f":57,"g":1140},{"x":40.75,"f":-10,"g":1180},{"x":40.85,"f":42,"g":1050},{"x":40.95,"f":64,"g":1080},
{"x":41.05,"f":50,"g":1110},{"x":41.15,"f":0,"g":1030},{"x":41.25,"f":74,"g":1140},{"x":41.35,"f":24,"g":1060},{"x":41.45,"f":58,"g":1170},{"x":41.55,"f":-13,"g":1080},{"x":41.65,"f":46,"g":1160},{"x":41.75,"f":8,"g":1140},{"x":41.85,"f":67,"g":1060},{"x":41.95,"f":32,"g":1100},
{"x":42.05,"f":4,"g":1120},{"x":42.15,"f":70,"g":1020},{"x":42.25,"f":20,"g":1145},{"x":42.35,"f":54,"g":995},{"x":42.45,"f":-8,"g":1080},{"x":42.55,"f":40,"g":1130},{"x":42.65,"f":62,"g":1035},{"x":42.75,"f":12,"g":1010},{"x":42.85,"f":77,"g":1105},{"x":42.95,"f":-3,"g":1030},
{"x":43.05,"f":70,"g":990},{"x":43.15,"f":95,"g":1115},{"x":43.25,"f":150,"g":1035},{"x":43.35,"f":185,"g":1145},{"x":43.45,"f":180,"g":1010},{"x":43.55,"f":135,"g":1085},{"x":43.65,"f":110,"g":1130},{"x":43.75,"f":60,"g":1025},{"x":43.85,"f":75,"g":1155},{"x":43.95,"f":20,"g":1005},
{"x":44.05,"f":-6,"g":1105},{"x":44.15,"f":52,"g":980},{"x":44.25,"f":37,"g":1125},{"x":44.35,"f":2,"g":1045},{"x":44.45,"f":80,"g":1110},{"x":44.55,"f":17,"g":995},{"x":44.65,"f":57,"g":1095},{"x":44.75,"f":-10,"g":1015},{"x":44.85,"f":42,"g":1140},{"x":44.95,"f":64,"g":1055},
{"x":45.05,"f":50,"g":1020},{"x":45.15,"f":25,"g":1130},{"x":45.25,"f":70,"g":1080},{"x":45.35,"f":95,"g":1060},{"x":45.45,"f":90,"g":1150},{"x":45.55,"f":40,"g":1100},{"x":45.65,"f":75,"g":1200},{"x":45.75,"f":60,"g":1190},{"x":45.85,"f":20,"g":1222},{"x":45.95,"f":50,"g":1180},
{"x":46.05,"f":60,"g":1200},{"x":46.15,"f":12,"g":1110},{"x":46.25,"f":68,"g":1140},{"x":46.35,"f":-12,"g":1060},{"x":46.45,"f":44,"g":1100},{"x":46.55,"f":72,"g":1030},{"x":46.65,"f":22,"g":1090},{"x":46.75,"f":2,"g":1040},{"x":46.85,"f":54,"g":1020},{"x":46.95,"f":16,"g":1110},
{"x":47.05,"f":50,"g":1090},{"x":47.15,"f":0,"g":1165},{"x":47.25,"f":74,"g":1140},{"x":47.35,"f":24,"g":1160},{"x":47.45,"f":58,"g":1080},{"x":47.55,"f":-13,"g":1120},{"x":47.65,"f":46,"g":1040},{"x":47.75,"f":8,"g":1100},{"x":47.85,"f":67,"g":1010},{"x":47.95,"f":32,"g":1080},
{"x":48.05,"f":4,"g":1000},{"x":48.15,"f":70,"g":1095},{"x":48.25,"f":20,"g":1070},{"x":48.35,"f":54,"g":980},{"x":48.45,"f":-8,"g":1130},{"x":48.55,"f":40,"g":1035},{"x":48.65,"f":62,"g":1115},{"x":48.75,"f":12,"g":995},{"x":48.85,"f":77,"g":1085},{"x":48.95,"f":-3,"g":1120},
{"x":49.05,"f":63,"g":1115},{"x":49.15,"f":15,"g":1015},{"x":49.25,"f":71,"g":1140},{"x":49.35,"f":-9,"g":990},{"x":49.45,"f":47,"g":1075},{"x":49.55,"f":75,"g":1125},{"x":49.65,"f":25,"g":1030},{"x":49.75,"f":5,"g":1005},{"x":49.85,"f":57,"g":1100},{"x":49.95,"f":19,"g":1025},
{"x":50.05,"f":-3,"g":985},{"x":50.15,"f":55,"g":1110},{"x":50.25,"f":40,"g":1030},{"x":50.35,"f":5,"g":1140},{"x":50.45,"f":83,"g":1005},{"x":50.55,"f":20,"g":1080},{"x":50.65,"f":60,"g":1125},{"x":50.75,"f":-7,"g":1020},{"x":50.85,"f":45,"g":1150},{"x":50.95,"f":67,"g":1000},
{"x":51.05,"f":53,"g":1100},{"x":51.15,"f":3,"g":975},{"x":51.25,"f":77,"g":1120},{"x":51.35,"f":27,"g":1040},{"x":51.45,"f":61,"g":1105},{"x":51.55,"f":-10,"g":990},{"x":51.65,"f":49,"g":1090},{"x":51.75,"f":11,"g":1010},{"x":51.85,"f":70,"g":1135},{"x":51.95,"f":35,"g":1050},
{"x":52.05,"f":68,"g":1100},{"x":52.15,"f":20,"g":1000},{"x":52.25,"f":76,"g":1110},{"x":52.35,"f":-4,"g":1020},{"x":52.45,"f":52,"g":1090},{"x":52.55,"f":80,"g":1050},{"x":52.65,"f":30,"g":1170},{"x":52.75,"f":10,"g":1130},{"x":52.85,"f":62,"g":1230},{"x":52.95,"f":24,"g":1250},
{"x":53.05,"f":80,"g":1240},{"x":53.15,"f":40,"g":1200},{"x":53.25,"f":90,"g":1120},{"x":53.35,"f":60,"g":1140},{"x":53.45,"f":110,"g":1060},{"x":53.55,"f":80,"g":1110},{"x":53.65,"f":125,"g":1010},{"x":53.75,"f":105,"g":1090},{"x":53.85,"f":100,"g":1030},{"x":53.95,"f":130,"g":1080},
{"x":54.05,"f":75,"g":1005},{"x":54.15,"f":95,"g":1100},{"x":54.25,"f":60,"g":1075},{"x":54.35,"f":75,"g":985},{"x":54.45,"f":40,"g":1135},{"x":54.55,"f":60,"g":1040},{"x":54.65,"f":10,"g":1120},{"x":54.75,"f":55,"g":1000},{"x":54.85,"f":25,"g":1090},{"x":54.95,"f":60,"g":1125},
{"x":55.05,"f":7,"g":1105},{"x":55.15,"f":73,"g":980},{"x":55.25,"f":23,"g":1125},{"x":55.35,"f":57,"g":1045},{"x":55.45,"f":-5,"g":1110},{"x":55.55,"f":43,"g":995},{"x":55.65,"f":65,"g":1095},{"x":55.75,"f":15,"g":1015},{"x":55.85,"f":80,"g":1140},{"x":55.95,"f":0,"g":1055},
{"x":56.05,"f":0,"g":1120},{"x":56.15,"f":58,"g":1020},{"x":56.25,"f":43,"g":1145},{"x":56.35,"f":8,"g":995},{"x":56.45,"f":86,"g":1080},{"x":56.55,"f":23,"g":1130},{"x":56.65,"f":63,"g":1035},{"x":56.75,"f":-4,"g":1010},{"x":56.85,"f":48,"g":1105},{"x":56.95,"f":70,"g":1030},
{"x":57.05,"f":75,"g":990},{"x":57.15,"f":115,"g":1115},{"x":57.25,"f":165,"g":1035},{"x":57.35,"f":200,"g":1145},{"x":57.45,"f":215,"g":1010},{"x":57.55,"f":190,"g":1085},{"x":57.65,"f":140,"g":1130},{"x":57.75,"f":95,"g":1025},{"x":57.85,"f":65,"g":1155},{"x":57.95,"f":30,"g":1005},
{"x":58.05,"f":53,"g":1080},{"x":58.15,"f":3,"g":1020},{"x":58.25,"f":77,"g":1130},{"x":58.35,"f":27,"g":1060},{"x":58.45,"f":61,"g":1150},{"x":58.55,"f":-10,"g":1080},{"x":58.65,"f":49,"g":1130},{"x":58.75,"f":11,"g":1120},{"x":58.85,"f":70,"g":1150},{"x":58.95,"f":35,"g":1070},
{"x":59.05,"f":63,"g":1100},{"x":59.15,"f":15,"g":1130},{"x":59.25,"f":71,"g":1040},{"x":59.35,"f":-9,"g":1110},{"x":59.45,"f":47,"g":990},{"x":59.55,"f":75,"g":1090},{"x":59.65,"f":25,"g":1040},{"x":59.75,"f":5,"g":1120},{"x":59.85,"f":57,"g":1050},{"x":59.95,"f":19,"g":1090},
{"x":60.05,"f":7,"g":1110},{"x":60.15,"f":73,"g":1180},{"x":60.25,"f":23,"g":1160},{"x":60.35,"f":57,"g":1180},{"x":60.45,"f":-5,"g":1100},{"x":60.55,"f":43,"g":1090},{"x":60.65,"f":65,"g":1180},{"x":60.75,"f":15,"g":1220},{"x":60.85,"f":80,"g":1270},{"x":60.95,"f":0,"g":1320},
{"x":61.05,"f":-3,"g":1300},{"x":61.15,"f":55,"g":1320},{"x":61.25,"f":40,"g":1260},{"x":61.35,"f":5,"g":1220},{"x":61.45,"f":83,"g":1150},{"x":61.55,"f":20,"g":1090},{"x":61.65,"f":60,"g":1120},{"x":61.75,"f":-7,"g":1040},{"x":61.85,"f":45,"g":1070},{"x":61.95,"f":67,"g":960},
{"x":62.05,"f":70,"g":1040},{"x":62.15,"f":15,"g":960},{"x":62.25,"f":40,"g":1060},{"x":62.35,"f":65,"g":990},{"x":62.45,"f":25,"g":1050},{"x":62.55,"f":70,"g":1020},{"x":62.65,"f":85,"g":1130},{"x":62.75,"f":130,"g":1090},{"x":62.85,"f":185,"g":1180},{"x":62.95,"f":260,"g":1220},
{"x":63.05,"f":330,"g":1250},{"x":63.15,"f":368,"g":1240},{"x":63.25,"f":350,"g":1300},{"x":63.35,"f":285,"g":1305},{"x":63.45,"f":210,"g":1270},{"x":63.55,"f":140,"g":1230},{"x":63.65,"f":90,"g":1180},{"x":63.75,"f":70,"g":1120},{"x":63.85,"f":30,"g":1140},{"x":63.95,"f":60,"g":1030},
{"x":64.05,"f":48,"g":1000},{"x":64.15,"f":-2,"g":1095},{"x":64.25,"f":72,"g":1070},{"x":64.35,"f":22,"g":980},{"x":64.45,"f":56,"g":1130},{"x":64.55,"f":-15,"g":1035},{"x":64.65,"f":44,"g":1115},{"x":64.75,"f":6,"g":995},{"x":64.85,"f":65,"g":1085},{"x":64.95,"f":30,"g":1120},
{"x":65.05,"f":58,"g":1100},{"x":65.15,"f":10,"g":975},{"x":65.25,"f":66,"g":1120},{"x":65.35,"f":-14,"g":1040},{"x":65.45,"f":42,"g":1105},{"x":65.55,"f":70,"g":990},{"x":65.65,"f":20,"g":1090},{"x":65.75,"f":0,"g":1010},{"x":65.85,"f":52,"g":1135},{"x":65.95,"f":14,"g":1050},
{"x":66.05,"f":2,"g":1020},{"x":66.15,"f":68,"g":1130},{"x":66.25,"f":18,"g":1160},{"x":66.35,"f":52,"g":1110},{"x":66.45,"f":-10,"g":1140},{"x":66.55,"f":38,"g":1000},{"x":66.65,"f":60,"g":1090},{"x":66.75,"f":10,"g":1120},{"x":66.85,"f":75,"g":1010},{"x":66.95,"f":-5,"g":1100},
{"x":67.05,"f":-8,"g":1120},{"x":67.15,"f":50,"g":1020},{"x":67.25,"f":35,"g":1145},{"x":67.35,"f":0,"g":995},{"x":67.45,"f":78,"g":1080},{"x":67.55,"f":15,"g":1130},{"x":67.65,"f":55,"g":1035},{"x":67.75,"f":-12,"g":1010},{"x":67.85,"f":40,"g":1105},{"x":67.95,"f":62,"g":1030},
{"x":68.05,"f":48,"g":1140},{"x":68.15,"f":-2,"g":1180},{"x":68.25,"f":72,"g":1070},{"x":68.35,"f":22,"g":1150},{"x":68.45,"f":56,"g":1060},{"x":68.55,"f":-15,"g":1120},{"x":68.65,"f":44,"g":1010},{"x":68.75,"f":6,"g":1100},{"x":68.85,"f":65,"g":1040},{"x":68.95,"f":30,"g":1090},
{"x":69.05,"f":58,"g":985},{"x":69.15,"f":10,"g":1110},{"x":69.25,"f":66,"g":1030},{"x":69.35,"f":-14,"g":1140},{"x":69.45,"f":42,"g":1005},{"x":69.55,"f":70,"g":1080},{"x":69.65,"f":20,"g":1125},{"x":69.75,"f":0,"g":1020},{"x":69.85,"f":52,"g":1150},{"x":69.95,"f":14,"g":1000}
],"one":[{}]},
"layer":[
{"data":{"name":"xrd"},
 "transform":[{"fold":["f","g"],"as":["s","v"]}],
 "mark":{"type":"line","strokeWidth":2,"interpolate":"linear"},
 "encoding":{
  "x":{"field":"x","type":"quantitative","scale":{"domain":[15,70],"nice":false,"zero":false},
   "axis":{"values":[15,20,25,30,35,40,45,50,55,60,65,70],"labelExpr":"datum.value % 10 == 0 ? datum.label : ''","labelFontSize":35,"labelPadding":9,"tickSize":{"condition":{"test":"datum.value % 10 == 0","value":16},"value":8},"title":"XRD angle, 2θ°","titleFontSize":44,"titleX":534,"titleY":107,"titleBaseline":"alphabetic","titleAnchor":"middle"}},
  "y":{"field":"v","type":"quantitative","scale":{"domain":[-245,2197],"nice":false,"zero":false},
   "axis":{"values":[0,1000,2000],"labels":false,"tickSize":16,"title":"Intensity, a.u.","titleFontSize":44,"titleAngle":-90,"titleX":-56,"titleY":383,"titleAlign":"center","titleBaseline":"alphabetic"}},
  "color":{"field":"s","type":"nominal","scale":{"domain":["f","g"],"range":["#D87349","#D4A44A"]},"legend":null},
  "order":{"field":"x","type":"quantitative"}
 }},
{"data":{"name":"one"},"mark":{"type":"text","align":"left","baseline":"alphabetic","font":"Liberation Sans","fontWeight":"bold","fontSize":45,"color":"#D4A44A"},"encoding":{"x":{"datum":42.6,"type":"quantitative"},"y":{"datum":1414,"type":"quantitative"},"text":{"value":"Gd"}}},
{"data":{"name":"one"},"mark":{"type":"text","align":"left","baseline":"alphabetic","font":"Liberation Sans","fontWeight":"bold","fontSize":26,"color":"#D4A44A"},"encoding":{"x":{"datum":45.8,"type":"quantitative"},"y":{"datum":1366,"type":"quantitative"},"text":{"value":"0.225"}}},
{"data":{"name":"one"},"mark":{"type":"text","align":"left","baseline":"alphabetic","font":"Liberation Sans","fontWeight":"bold","fontSize":45,"color":"#D4A44A"},"encoding":{"x":{"datum":49.2,"type":"quantitative"},"y":{"datum":1414,"type":"quantitative"},"text":{"value":"Fe"}}},
{"data":{"name":"one"},"mark":{"type":"text","align":"left","baseline":"alphabetic","font":"Liberation Sans","fontWeight":"bold","fontSize":26,"color":"#D4A44A"},"encoding":{"x":{"datum":51.9,"type":"quantitative"},"y":{"datum":1366,"type":"quantitative"},"text":{"value":"2.775"}}},
{"data":{"name":"one"},"mark":{"type":"text","align":"left","baseline":"alphabetic","font":"Liberation Sans","fontWeight":"bold","fontSize":45,"color":"#D4A44A"},"encoding":{"x":{"datum":55.3,"type":"quantitative"},"y":{"datum":1414,"type":"quantitative"},"text":{"value":"O"}}},
{"data":{"name":"one"},"mark":{"type":"text","align":"left","baseline":"alphabetic","font":"Liberation Sans","fontWeight":"bold","fontSize":26,"color":"#D4A44A"},"encoding":{"x":{"datum":57.1,"type":"quantitative"},"y":{"datum":1366,"type":"quantitative"},"text":{"value":"4"}}},
{"data":{"name":"one"},"mark":{"type":"text","align":"left","baseline":"alphabetic","font":"Liberation Sans","fontWeight":"bold","fontSize":45,"color":"#D87349"},"encoding":{"x":{"datum":46.47,"type":"quantitative"},"y":{"datum":169,"type":"quantitative"},"text":{"value":"Fe"}}},
{"data":{"name":"one"},"mark":{"type":"text","align":"left","baseline":"alphabetic","font":"Liberation Sans","fontWeight":"bold","fontSize":26,"color":"#D87349"},"encoding":{"x":{"datum":49.15,"type":"quantitative"},"y":{"datum":121,"type":"quantitative"},"text":{"value":"2"}}},
{"data":{"name":"one"},"mark":{"type":"text","align":"left","baseline":"alphabetic","font":"Liberation Sans","fontWeight":"bold","fontSize":45,"color":"#D87349"},"encoding":{"x":{"datum":49.9,"type":"quantitative"},"y":{"datum":169,"type":"quantitative"},"text":{"value":"O"}}},
{"data":{"name":"one"},"mark":{"type":"text","align":"left","baseline":"alphabetic","font":"Liberation Sans","fontWeight":"bold","fontSize":26,"color":"#D87349"},"encoding":{"x":{"datum":51.7,"type":"quantitative"},"y":{"datum":121,"type":"quantitative"},"text":{"value":"3"}}}
]
}
